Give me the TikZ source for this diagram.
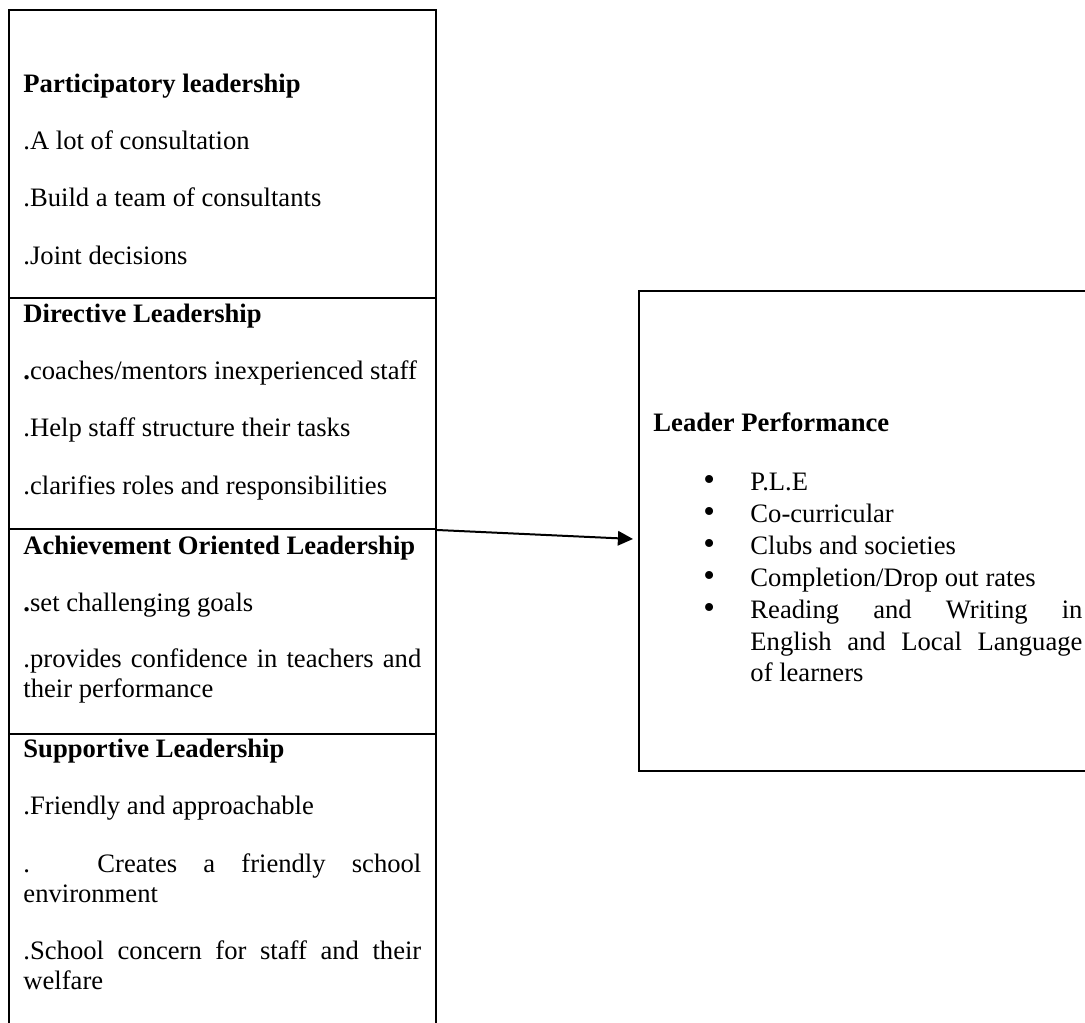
\documentclass[tikz,border=0pt]{standalone}
\usepackage{fontspec}
\setmainfont{Liberation Serif}
\usetikzlibrary{arrows.meta,fit}
\newcommand\jleft[1]{\makebox[179.4pt][s]{#1}}
\newcommand\jright[1]{\makebox[149.7pt][s]{#1}}
\newcommand\bulitem{\makebox[21.2pt][l]{{\fontsize{15pt}{14.4pt}\selectfont •}}}
\begin{document}
\begin{tikzpicture}[x=0.4509pt,y=-0.4509pt,
  box/.style={draw,line width=0.9pt,inner sep=0pt},
  txt/.style={anchor=base west,inner sep=0pt,align=left,font=\fontsize{12pt}{13.8pt}\selectfont},
  head/.style={txt,font=\fontsize{12pt}{13.8pt}\selectfont\bfseries},
  listtxt/.style={txt,font=\fontsize{12pt}{14.4pt}\selectfont},
  link/.style={line width=0.9pt,-{Triangle[length=6.8pt,width=6.5pt]}}]
\useasboundingbox (0,0) rectangle (1085,1023);
\clip (0,0) rectangle (1085,1023);
% left stacked boxes
\node[box,fit={(9,10) (436,298)}] (sec1) {};
\node[box,fit={(9,298) (436,529)}] (sec2) {};
\node[box,fit={(9,529) (436,734)}] (sec3) {};
\node[box,fit={(9,734) (436,1050)}] (sec4) {};
% right box
\node[box,fit={(639,291) (1100,771)}] (perf) {};
% section 1
\node[head] (h1) at (23,93) {Participatory leadership};
\node[txt] (p1a) at (23,150) {.A lot of consultation};
\node[txt] (p1b) at (23,207) {.Build a team of consultants};
\node[txt] (p1c) at (23,265) {.Joint decisions};
% section 2
\node[head] (h2) at (23,323) {Directive Leadership};
\node[txt] (p2a) at (23,380) {\textbf{.}coaches/mentors inexperienced staff};
\node[txt] (p2b) at (23,437) {.Help staff structure their tasks};
\node[txt] (p2c) at (23,495) {.clarifies roles and responsibilities};
% section 3 (multi-line nodes are placed by their last baseline)
\node[head] (h3) at (23,555) {Achievement Oriented Leadership};
\node[txt] (p3a) at (23,612) {\textbf{.}set challenging goals};
\node[txt] (p3b) at (23,698) {\jleft{.provides confidence in teachers and}\\their performance};
% section 4
\node[head] (h4) at (23,758) {Supportive Leadership};
\node[txt] (p4a) at (23,815) {.Friendly and approachable};
\node[txt] (p4b) at (23,903) {\jleft{. Creates a friendly school}\\environment};
\node[txt] (p4c) at (23,990) {\jleft{.School concern for staff and their}\\welfare};
% right content
\node[head] (h5) at (653,432) {Leader Performance};
\node[listtxt] (list) at (703,682) {\bulitem P.L.E\\
\bulitem Co-curricular\\
\bulitem Clubs and societies\\
\bulitem Completion/Drop out rates\\
\bulitem\jright{Reading and Writing in}\\
\hspace*{21.2pt}\jright{English and Local Language}\\
\hspace*{21.2pt}of learners};
% connector
\coordinate (tip) at (633,539);
\draw[link] (sec2.south east) -- (tip);
\end{tikzpicture}
\end{document}
